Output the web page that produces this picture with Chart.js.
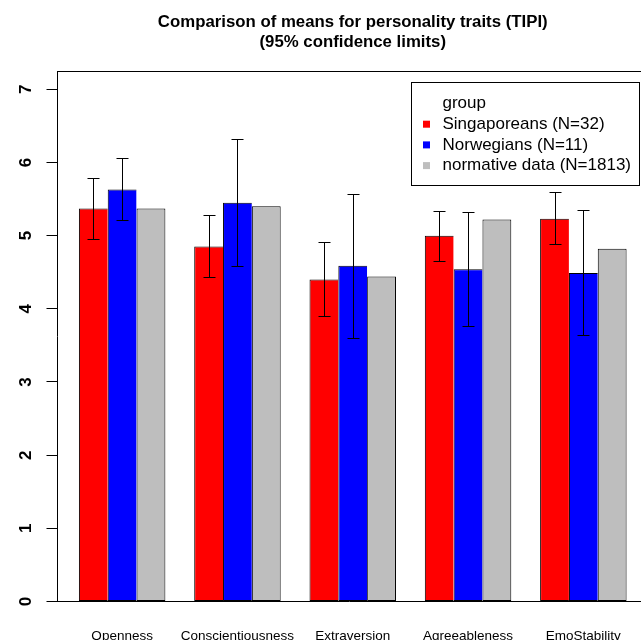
<!DOCTYPE html>
<html>
<head>
<meta charset="utf-8">
<script src="https://cdn.jsdelivr.net/npm/chart.js@4/dist/chart.umd.min.js"></script>
<style>
  html, body { margin: 0; padding: 0; background: #ffffff; }
  #c { display: block; }
</style>
</head>
<body>
<canvas id="c" width="641" height="640"></canvas>
<script>
// TIPI trait means per group, with 95% confidence limits
const categories = ['Openness', 'Conscientiousness', 'Extraversion', 'Agreeableness', 'EmoStability'];
const groupNames = ['Singaporeans (N=32)', 'Norwegians (N=11)', 'normative data (N=1813)'];
const titleLines = ['Comparison of means for personality traits (TIPI)', '(95% confidence limits)'];

const singMean = [5.37, 4.85, 4.40, 5.00, 5.23];
const singLow  = [4.95, 4.43, 3.90, 4.65, 4.88];
const singHigh = [5.79, 5.28, 4.91, 5.34, 5.59];

const norMean  = [5.63, 5.45, 4.59, 4.54, 4.49];
const norLow   = [5.21, 4.59, 3.60, 3.77, 3.64];
const norHigh  = [6.06, 6.32, 5.57, 5.32, 5.35];

const normMean = [5.37, 5.40, 4.44, 5.22, 4.82];

const yTicks = [0, 1, 2, 3, 4, 5, 6, 7];

// barplot-style layout: each group is 3 bars wide plus one bar of space
const groupCenters = categories.map((_, i) => 2.5 + 4 * i);
const toPoints = vals => vals.map((v, i) => ({ x: groupCenters[i], y: v }));

const SANS = "'Liberation Sans', Arial, sans-serif";

// confidence-limit whiskers
const errorBars = {
  id: 'errorBars',
  afterDatasetsDraw(chart) {
    const { ctx, scales: { y } } = chart;
    ctx.save();
    ctx.strokeStyle = '#000';
    ctx.lineWidth = 1;
    chart.data.datasets.forEach((ds, di) => {
      if (!ds.errLow) return;
      chart.getDatasetMeta(di).data.forEach((bar, i) => {
        const x = Math.round(bar.x) + 0.5;
        const lo = Math.round(y.getPixelForValue(ds.errLow[i])) + 0.5;
        const hi = Math.round(y.getPixelForValue(ds.errHigh[i])) + 0.5;
        ctx.beginPath();
        ctx.moveTo(x, lo); ctx.lineTo(x, hi);
        ctx.moveTo(x - 6, lo); ctx.lineTo(x + 6, lo);
        ctx.moveTo(x - 6, hi); ctx.lineTo(x + 6, hi);
        ctx.stroke();
      });
    });
    ctx.restore();
  }
};

// title, top edge of the plot frame, rotated y labels and the boxed legend
const frameAndLegend = {
  id: 'frameAndLegend',
  afterDraw(chart) {
    const { ctx, chartArea: a, scales: { x, y } } = chart;
    ctx.save();

    // two-line bold title, centred over the whole plotting region
    const cx = x.getPixelForValue((x.min + 20.76) / 2);
    ctx.fillStyle = '#000';
    ctx.font = 'bold 16.8px ' + SANS;
    ctx.textAlign = 'center';
    ctx.textBaseline = 'alphabetic';
    titleLines.forEach((t, i) => ctx.fillText(t, cx, 27 + i * 20));

    ctx.strokeStyle = '#000';
    ctx.lineWidth = 1;
    ctx.beginPath();
    ctx.moveTo(a.left, Math.round(a.top) + 0.5);
    ctx.lineTo(a.right, Math.round(a.top) + 0.5);
    ctx.stroke();

    // y tick labels, written along the axis
    ctx.font = 'bold 17px ' + SANS;
    ctx.textAlign = 'center';
    ctx.textBaseline = 'middle';
    y.ticks.forEach(t => {
      ctx.save();
      ctx.translate(a.left - 30.5, y.getPixelForValue(t.value));
      ctx.rotate(-Math.PI / 2);
      ctx.fillText(String(t.value), 0, 0);
      ctx.restore();
    });

    // legend
    const left = Math.round(a.right - 230.5) + 0.5;
    const top = Math.round(a.top + 11) + 0.5;
    const w = 228, h = 103;
    ctx.strokeRect(left, top, w, h);
    const rows = ['group'].concat(chart.data.datasets.map(d => d.label));
    ctx.font = '17px ' + SANS;
    ctx.textAlign = 'left';
    rows.forEach((txt, i) => {
      const cy = top + 21 + i * 20.7;
      if (i > 0) {
        ctx.fillStyle = chart.data.datasets[i - 1].backgroundColor;
        ctx.fillRect(left + 11.5, cy - 3.5, 7, 7);
      }
      ctx.fillStyle = '#000';
      ctx.fillText(txt, left + 31, cy);
    });
    ctx.restore();
  }
};

// adjacent bars in a group share a single outline
const innerBar = { borderColor: '#000', borderWidth: { top: 1, left: 1, bottom: 1, right: 0 }, borderSkipped: false };
const outerBar = { borderColor: '#000', borderWidth: 1, borderSkipped: false };

new Chart(document.getElementById('c'), {
  type: 'bar',
  data: {
    datasets: [
      Object.assign({ label: groupNames[0], data: toPoints(singMean), backgroundColor: '#FF0000',
        errLow: singLow, errHigh: singHigh }, innerBar),
      Object.assign({ label: groupNames[1], data: toPoints(norMean), backgroundColor: '#0000FF',
        errLow: norLow, errHigh: norHigh }, innerBar),
      Object.assign({ label: groupNames[2], data: toPoints(normMean), backgroundColor: '#BEBEBE' }, outerBar)
    ]
  },
  options: {
    responsive: false,
    animation: false,
    devicePixelRatio: 1,
    layout: { padding: { top: 71 } },
    datasets: { bar: { categoryPercentage: 0.75, barPercentage: 1 } },
    plugins: {
      legend: { display: false },
      tooltip: { enabled: false },
      title: { display: false }
    },
    scales: {
      x: {
        type: 'linear',
        offset: false,
        min: 0.24,
        max: 20.5,
        grid: { display: false, offset: false },
        border: { display: true, color: '#000', width: 1 },
        afterBuildTicks: s => { s.ticks = groupCenters.map(v => ({ value: v })); },
        afterFit: s => { s.height = 38.5; s.paddingLeft = 0; s.paddingRight = 0; },
        ticks: {
          autoSkip: false,
          maxRotation: 0,
          minRotation: 0,
          padding: 19,
          color: '#000',
          font: { family: SANS, size: 13.5 },
          callback: (v, i) => categories[i]
        }
      },
      y: {
        min: 0,
        max: 7.25,
        afterBuildTicks: s => { s.ticks = yTicks.map(v => ({ value: v })); },
        afterFit: s => { s.width = 57; },
        grid: { display: true, drawOnChartArea: false, drawTicks: true, tickLength: 10.5, color: '#000', lineWidth: 1 },
        border: { display: true, color: '#000', width: 1 },
        ticks: { display: false }
      }
    }
  },
  plugins: [errorBars, frameAndLegend]
});
</script>
</body>
</html>
